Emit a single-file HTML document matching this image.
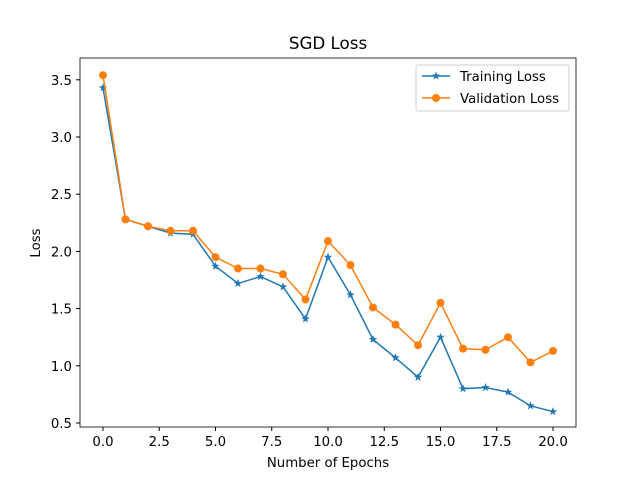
<!DOCTYPE html>
<html><head><meta charset="utf-8"><style>body{margin:0;background:#fff}svg{display:block}text{font-family:"DejaVu Sans","Liberation Sans",sans-serif}</style></head>
<body>
<svg id="c" width="640" height="480"></svg>
<script>
const epochs=[0,1,2,3,4,5,6,7,8,9,10,11,12,13,14,15,16,17,18,19,20];
const trainLoss=[3.43,2.28,2.22,2.16,2.15,1.87,1.72,1.78,1.69,1.41,1.95,1.62,1.23,1.07,0.90,1.25,0.80,0.81,0.77,0.65,0.60];
const valLoss=[3.54,2.28,2.22,2.18,2.18,1.95,1.85,1.85,1.80,1.58,2.09,1.88,1.51,1.36,1.18,1.55,1.15,1.14,1.25,1.03,1.13];
const xTicks=[0,2.5,5,7.5,10,12.5,15,17.5,20];
const xTickLabels=["0.0","2.5","5.0","7.5","10.0","12.5","15.0","17.5","20.0"];
const yTicks=[0.5,1,1.5,2,2.5,3,3.5];
const yTickLabels=["0.5","1.0","1.5","2.0","2.5","3.0","3.5"];
const NS="http://www.w3.org/2000/svg",svg=document.getElementById('c');
const X=v=>103+v*22.5, Y=v=>423-(v-0.5)*114.4;
function el(t,a,p){const e=document.createElementNS(NS,t);for(const k in a)e.setAttribute(k,a[k]);(p||svg).appendChild(e);return e;}
let t=el('text',{x:328,y:49,'text-anchor':'middle','font-size':16.7});t.textContent='SGD Loss';
xTicks.forEach((v,i)=>{el('line',{x1:X(v),x2:X(v),y1:427,y2:431,stroke:'#000'});const s=el('text',{x:X(v),y:446,'text-anchor':'middle','font-size':13.3});s.textContent=xTickLabels[i];});
yTicks.forEach((v,i)=>{el('line',{x1:76,x2:80,y1:Y(v),y2:Y(v),stroke:'#000'});const s=el('text',{x:72,y:Y(v)+5,'text-anchor':'end','font-size':13.3});s.textContent=yTickLabels[i];});
t=el('text',{x:328,y:467,'text-anchor':'middle','font-size':13.3});t.textContent='Number of Epochs';
t=el('text',{x:40,y:243,'text-anchor':'middle','font-size':13.3,transform:'rotate(-90 40 243)'});t.textContent='Loss';
function star(cx,cy,r,c,p){let pts=[];for(let i=0;i<10;i++){const a=-Math.PI/2+i*Math.PI/5,rr=i%2?r*0.4:r;pts.push((cx+rr*Math.cos(a)).toFixed(1)+','+(cy+rr*Math.sin(a)).toFixed(1));}const s=el('polygon',{points:pts.join(' '),fill:c},p);}
function series(vals,c,mk,name){const g=el('g',{});
el('polyline',{points:vals.map((v,i)=>X(epochs[i])+','+Y(v)).join(' '),fill:'none',stroke:c,'stroke-width':1.5},g);
vals.forEach((v,i)=>{if(mk==='star')star(X(epochs[i]),Y(v),4.5,c,g);else{const m=el('circle',{cx:X(epochs[i]),cy:Y(v),r:4,fill:c},g);}});}
series(trainLoss,'#1f77b4','star','training-loss-series');
series(valLoss,'#ff7f0e','circle','validation-loss-series');
el('rect',{x:80,y:58,width:496,height:369,fill:'none',stroke:'#000','stroke-width':0.8});
const lg=el('g',{});
el('rect',{x:416,y:65,width:153,height:46,rx:2,fill:'#fff',stroke:'#ccc'},lg);
el('line',{x1:422,x2:450,y1:76,y2:76,stroke:'#1f77b4','stroke-width':1.5},lg);star(436,76,4.5,'#1f77b4',lg);
t=el('text',{x:460,y:81,'font-size':13.3},lg);t.textContent='Training Loss';
el('line',{x1:422,x2:450,y1:98,y2:98,stroke:'#ff7f0e','stroke-width':1.5},lg);el('circle',{cx:436,cy:98,r:4,fill:'#ff7f0e'},lg);
t=el('text',{x:460,y:103,'font-size':13.3},lg);t.textContent='Validation Loss';
</script>
</body></html>
